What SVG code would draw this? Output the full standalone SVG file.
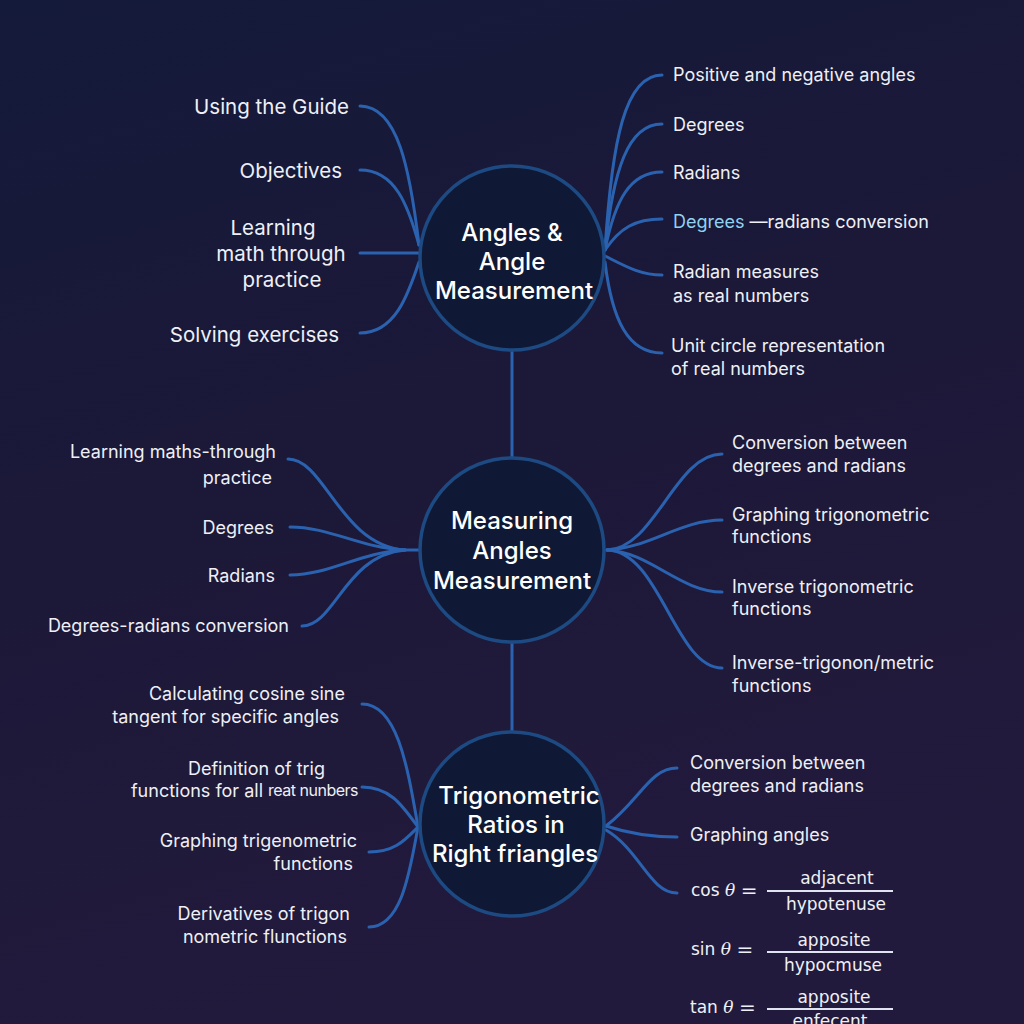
<svg xmlns="http://www.w3.org/2000/svg" width="1024" height="1024" viewBox="0 0 1024 1024">
<defs>
<linearGradient id="bg" x1="0" y1="0" x2="0.3" y2="1">
<stop offset="0" stop-color="#141a3a"/>
<stop offset="0.5" stop-color="#1c1838"/>
<stop offset="1" stop-color="#221a3c"/>
</linearGradient>
<style>
.node{fill:#0f1935;stroke:#1d4a82;stroke-width:3.5}
.nt{font-family:Inter,"Noto Sans",sans-serif;font-size:24px;font-weight:500;fill:#ffffff;text-anchor:middle;dominant-baseline:central}
.lf{font-family:Inter,"Noto Sans",sans-serif;font-size:18px;fill:#eef0f6;dominant-baseline:central}
.big{font-size:20.5px}
.r{text-anchor:end}
.m{text-anchor:middle}
.c{fill:none;stroke:#2a62b0;stroke-width:3;stroke-linecap:round}
.f{font-family:"DejaVu Sans",sans-serif;font-size:17px;fill:#eef0f6;dominant-baseline:central}
.fi{font-family:"DejaVu Serif",serif;font-style:italic}
.bar{stroke:#dfe4f0;stroke-width:2}
</style>
</defs>
<rect width="1024" height="1024" fill="url(#bg)"/>

<g id="connectors">
<path class="c" d="M512,352 L512,457"/>
<path class="c" d="M512,643 L512,732"/>
<path class="c" d="M360,106 C398,106 410,170 419,245"/>
<path class="c" d="M360,170 C395,170 408,205 419,245"/>
<path class="c" d="M360,253 L420,253"/>
<path class="c" d="M360,333 C395,333 408,295 419,262"/>
<path class="c" d="M605,250 C612,140 625,75 662,75"/>
<path class="c" d="M605,250 C613,170 628,124 662,124"/>
<path class="c" d="M605,250 C615,200 630,172 662,172"/>
<path class="c" d="M605,250 C620,228 635,219 662,219"/>
<path class="c" d="M605,256 C625,266 640,275 662,275"/>
<path class="c" d="M605,262 C612,320 628,353 662,353"/>
<path class="c" d="M288,459 C325,459 340,545 405,550 L420,550"/>
<path class="c" d="M290,527 C330,527 360,548 405,550"/>
<path class="c" d="M290,575 C330,575 360,552 405,550"/>
<path class="c" d="M302,626 C335,626 345,555 405,550"/>
<path class="c" d="M607,550 C655,549 675,454 722,454"/>
<path class="c" d="M607,550 C650,548 680,520 722,520"/>
<path class="c" d="M607,550 C650,552 680,592 722,592"/>
<path class="c" d="M607,550 C660,551 675,668 722,668"/>
<path class="c" d="M362,704 C398,704 408,770 418,827"/>
<path class="c" d="M362,787 C390,787 402,805 418,827"/>
<path class="c" d="M369,852 C395,852 405,840 418,827"/>
<path class="c" d="M369,927 C402,927 410,870 418,827"/>
<path class="c" d="M606,826 C640,800 650,768 677,768"/>
<path class="c" d="M606,826 C630,834 650,837 677,837"/>
<path class="c" d="M606,830 C640,850 650,893 677,893"/>
</g>

<g id="node-angles">
<circle class="node" cx="512" cy="258" r="92"/>
<text class="nt" x="512" y="232">Angles &amp;</text>
<text class="nt" x="512" y="261">Angle</text>
<text class="nt" x="514" y="290">Measurement</text>
</g>
<g id="node-measuring">
<circle class="node" cx="512" cy="550" r="92"/>
<text class="nt" x="512" y="520">Measuring</text>
<text class="nt" x="512" y="550">Angles</text>
<text class="nt" x="512" y="580">Measurement</text>
</g>
<g id="node-trig">
<circle class="node" cx="512" cy="824" r="92"/>
<text class="nt" x="519" y="795">Trigonometric</text>
<text class="nt" x="516" y="824">Ratios in</text>
<text class="nt" x="515" y="853">Right friangles</text>
</g>

<g id="leaves-top-left">
<text class="lf big r" x="349" y="106">Using the Guide</text>
<text class="lf big r" x="342" y="170">Objectives</text>
<text class="lf big m" x="273" y="227">Learning</text>
<text class="lf big m" x="281" y="253">math through</text>
<text class="lf big m" x="282" y="279">practice</text>
<text class="lf big r" x="339" y="334">Solving exercises</text>
</g>

<g id="leaves-top-right">
<text class="lf" x="673" y="74">Positive and negative angles</text>
<text class="lf" x="673" y="124">Degrees</text>
<text class="lf" x="673" y="172">Radians</text>
<text class="lf" x="673" y="221"><tspan fill="#8fd2f2">Degrees</tspan> —radians conversion</text>
<text class="lf" x="673" y="271">Radian measures</text>
<text class="lf" x="673" y="295">as real numbers</text>
<text class="lf" x="671" y="345">Unit circle representation</text>
<text class="lf" x="671" y="368">of real numbers</text>
</g>

<g id="leaves-middle-left">
<text class="lf r" x="276" y="451">Learning maths-through</text>
<text class="lf r" x="272" y="477">practice</text>
<text class="lf r" x="274" y="527">Degrees</text>
<text class="lf r" x="275" y="575">Radians</text>
<text class="lf r" x="289" y="625">Degrees-radians conversion</text>
</g>

<g id="leaves-middle-right">
<text class="lf" x="732" y="442">Conversion between</text>
<text class="lf" x="732" y="465">degrees and radians</text>
<text class="lf" x="732" y="514">Graphing trigonometric</text>
<text class="lf" x="732" y="536">functions</text>
<text class="lf" x="732" y="586">Inverse trigonometric</text>
<text class="lf" x="732" y="608">functions</text>
<text class="lf" x="732" y="662">Inverse-trigonon/metric</text>
<text class="lf" x="732" y="685">functions</text>
</g>

<g id="leaves-bottom-left">
<text class="lf r" x="345" y="693">Calculating cosine sine</text>
<text class="lf r" x="339" y="716">tangent for specific angles</text>
<text class="lf r" x="325" y="768">Definition of trig</text>
<text class="lf r" x="358" y="790">functions for all <tspan font-size="16" letter-spacing="-0.5">reat nunbers</tspan></text>
<text class="lf r" x="357" y="840">Graphing trigenometric</text>
<text class="lf r" x="353" y="863">functions</text>
<text class="lf r" x="350" y="913">Derivatives of trigon</text>
<text class="lf r" x="347" y="936">nometric flunctions</text>
</g>

<g id="leaves-bottom-right">
<text class="lf" x="690" y="762">Conversion between</text>
<text class="lf" x="690" y="785">degrees and radians</text>
<text class="lf" x="690" y="834">Graphing angles</text>
</g>

<g id="formulas">
<text class="f" x="691" y="890">cos <tspan class="fi">θ</tspan> <tspan font-size="20">=</tspan></text>
<line class="bar" x1="767" y1="891" x2="893" y2="891"/>
<text class="f m" x="837" y="878">adjacent</text>
<text class="f m" x="836" y="904">hypotenuse</text>

<text class="f" x="691" y="949">sin <tspan class="fi">θ</tspan> <tspan font-size="20">=</tspan></text>
<line class="bar" x1="767" y1="952" x2="893" y2="952"/>
<text class="f m" x="834" y="940">apposite</text>
<text class="f m" x="833" y="965">hypocmuse</text>

<text class="f" x="690" y="1007">tan <tspan class="fi">θ</tspan> <tspan font-size="20">=</tspan></text>
<line class="bar" x1="767" y1="1009" x2="893" y2="1009"/>
<text class="f m" x="834" y="997">apposite</text>
<text class="f m" x="830" y="1021">enfecent</text>
</g>
</svg>
